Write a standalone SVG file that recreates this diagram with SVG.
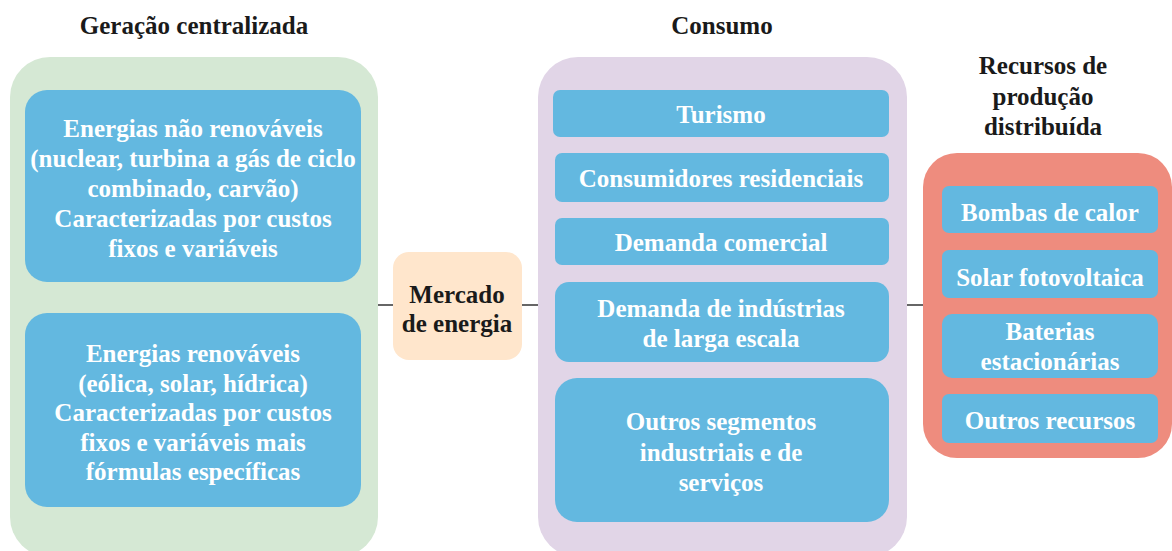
<svg xmlns="http://www.w3.org/2000/svg" width="1172" height="551" viewBox="0 0 1172 551">
<style>
text{font-family:"Liberation Serif","Noto Serif","DejaVu Serif",serif;font-weight:bold;font-size:25px;text-anchor:middle}
.w{fill:#ffffff}
.k{fill:#1a1a1a}
.b{fill:#63B8E0}
.c{stroke:#666666;stroke-width:2;fill:none}
</style>
<rect width="1172" height="551" fill="#ffffff"/>
<g id="titles">
<text class="k" x="194" y="34">Geração centralizada</text>
<text class="k" x="722" y="34">Consumo</text>
<text class="k" x="1043" y="74">Recursos de</text>
<text class="k" x="1043" y="105">produção</text>
<text class="k" x="1043" y="135">distribuída</text>
</g>
<g id="connectors">
<line class="c" x1="378" y1="305" x2="393" y2="305"/>
<line class="c" x1="522" y1="305" x2="538" y2="305"/>
<line class="c" x1="907" y1="305" x2="923" y2="305"/>
</g>
<g id="geracao">
<rect x="10" y="57" width="368" height="500" rx="40" fill="#D5E8D4"/>
</g>
<g id="nao-renovaveis">
<rect class="b" x="25" y="90" width="336" height="192" rx="22"/>
<text class="w" x="193" y="137">Energias não renováveis</text>
<text class="w" x="193" y="167">(nuclear, turbina a gás de ciclo</text>
<text class="w" x="193" y="197">combinado, carvão)</text>
<text class="w" x="193" y="227">Caracterizadas por custos</text>
<text class="w" x="193" y="257">fixos e variáveis</text>
</g>
<g id="renovaveis">
<rect class="b" x="25" y="313" width="336" height="194" rx="22"/>
<text class="w" x="193" y="362">Energias renováveis</text>
<text class="w" x="193" y="392">(eólica, solar, hídrica)</text>
<text class="w" x="193" y="421">Caracterizadas por custos</text>
<text class="w" x="193" y="451">fixos e variáveis mais</text>
<text class="w" x="193" y="480">fórmulas específicas</text>
</g>
<g id="mercado">
<rect x="393" y="252" width="129" height="108" rx="16" fill="#FFE6CC"/>
<text class="k" x="457" y="303">Mercado</text>
<text class="k" x="457" y="332">de energia</text>
</g>
<g id="consumo">
<rect x="538" y="57" width="369" height="500" rx="40" fill="#E1D5E7"/>
</g>
<g id="turismo">
<rect class="b" x="553" y="90" width="336" height="47" rx="7"/>
<text class="w" x="721" y="123">Turismo</text>
</g>
<g id="residenciais">
<rect class="b" x="555" y="153" width="334" height="49" rx="7"/>
<text class="w" x="721" y="187">Consumidores residenciais</text>
</g>
<g id="comercial">
<rect class="b" x="555" y="218" width="334" height="47" rx="7"/>
<text class="w" x="721" y="251">Demanda comercial</text>
</g>
<g id="industrias">
<rect class="b" x="555" y="282" width="334" height="80" rx="14"/>
<text class="w" x="721" y="317">Demanda de indústrias</text>
<text class="w" x="721" y="347">de larga escala</text>
</g>
<g id="outros-segmentos">
<rect class="b" x="555" y="378" width="334" height="144" rx="22"/>
<text class="w" x="721" y="430">Outros segmentos</text>
<text class="w" x="721" y="461">industriais e de</text>
<text class="w" x="721" y="491">serviços</text>
</g>
<g id="recursos">
<rect x="923" y="153" width="249" height="305" rx="34" fill="#EE8C7E"/>
</g>
<g id="bombas">
<rect class="b" x="942" y="186" width="216" height="47" rx="7"/>
<text class="w" x="1050" y="221">Bombas de calor</text>
</g>
<g id="solar">
<rect class="b" x="942" y="250" width="216" height="48" rx="7"/>
<text class="w" x="1050" y="286">Solar fotovoltaica</text>
</g>
<g id="baterias">
<rect class="b" x="942" y="314" width="216" height="64" rx="10"/>
<text class="w" x="1050" y="340">Baterias</text>
<text class="w" x="1050" y="370">estacionárias</text>
</g>
<g id="outros-recursos">
<rect class="b" x="942" y="394" width="216" height="49" rx="7"/>
<text class="w" x="1050" y="429">Outros recursos</text>
</g>
</svg>
